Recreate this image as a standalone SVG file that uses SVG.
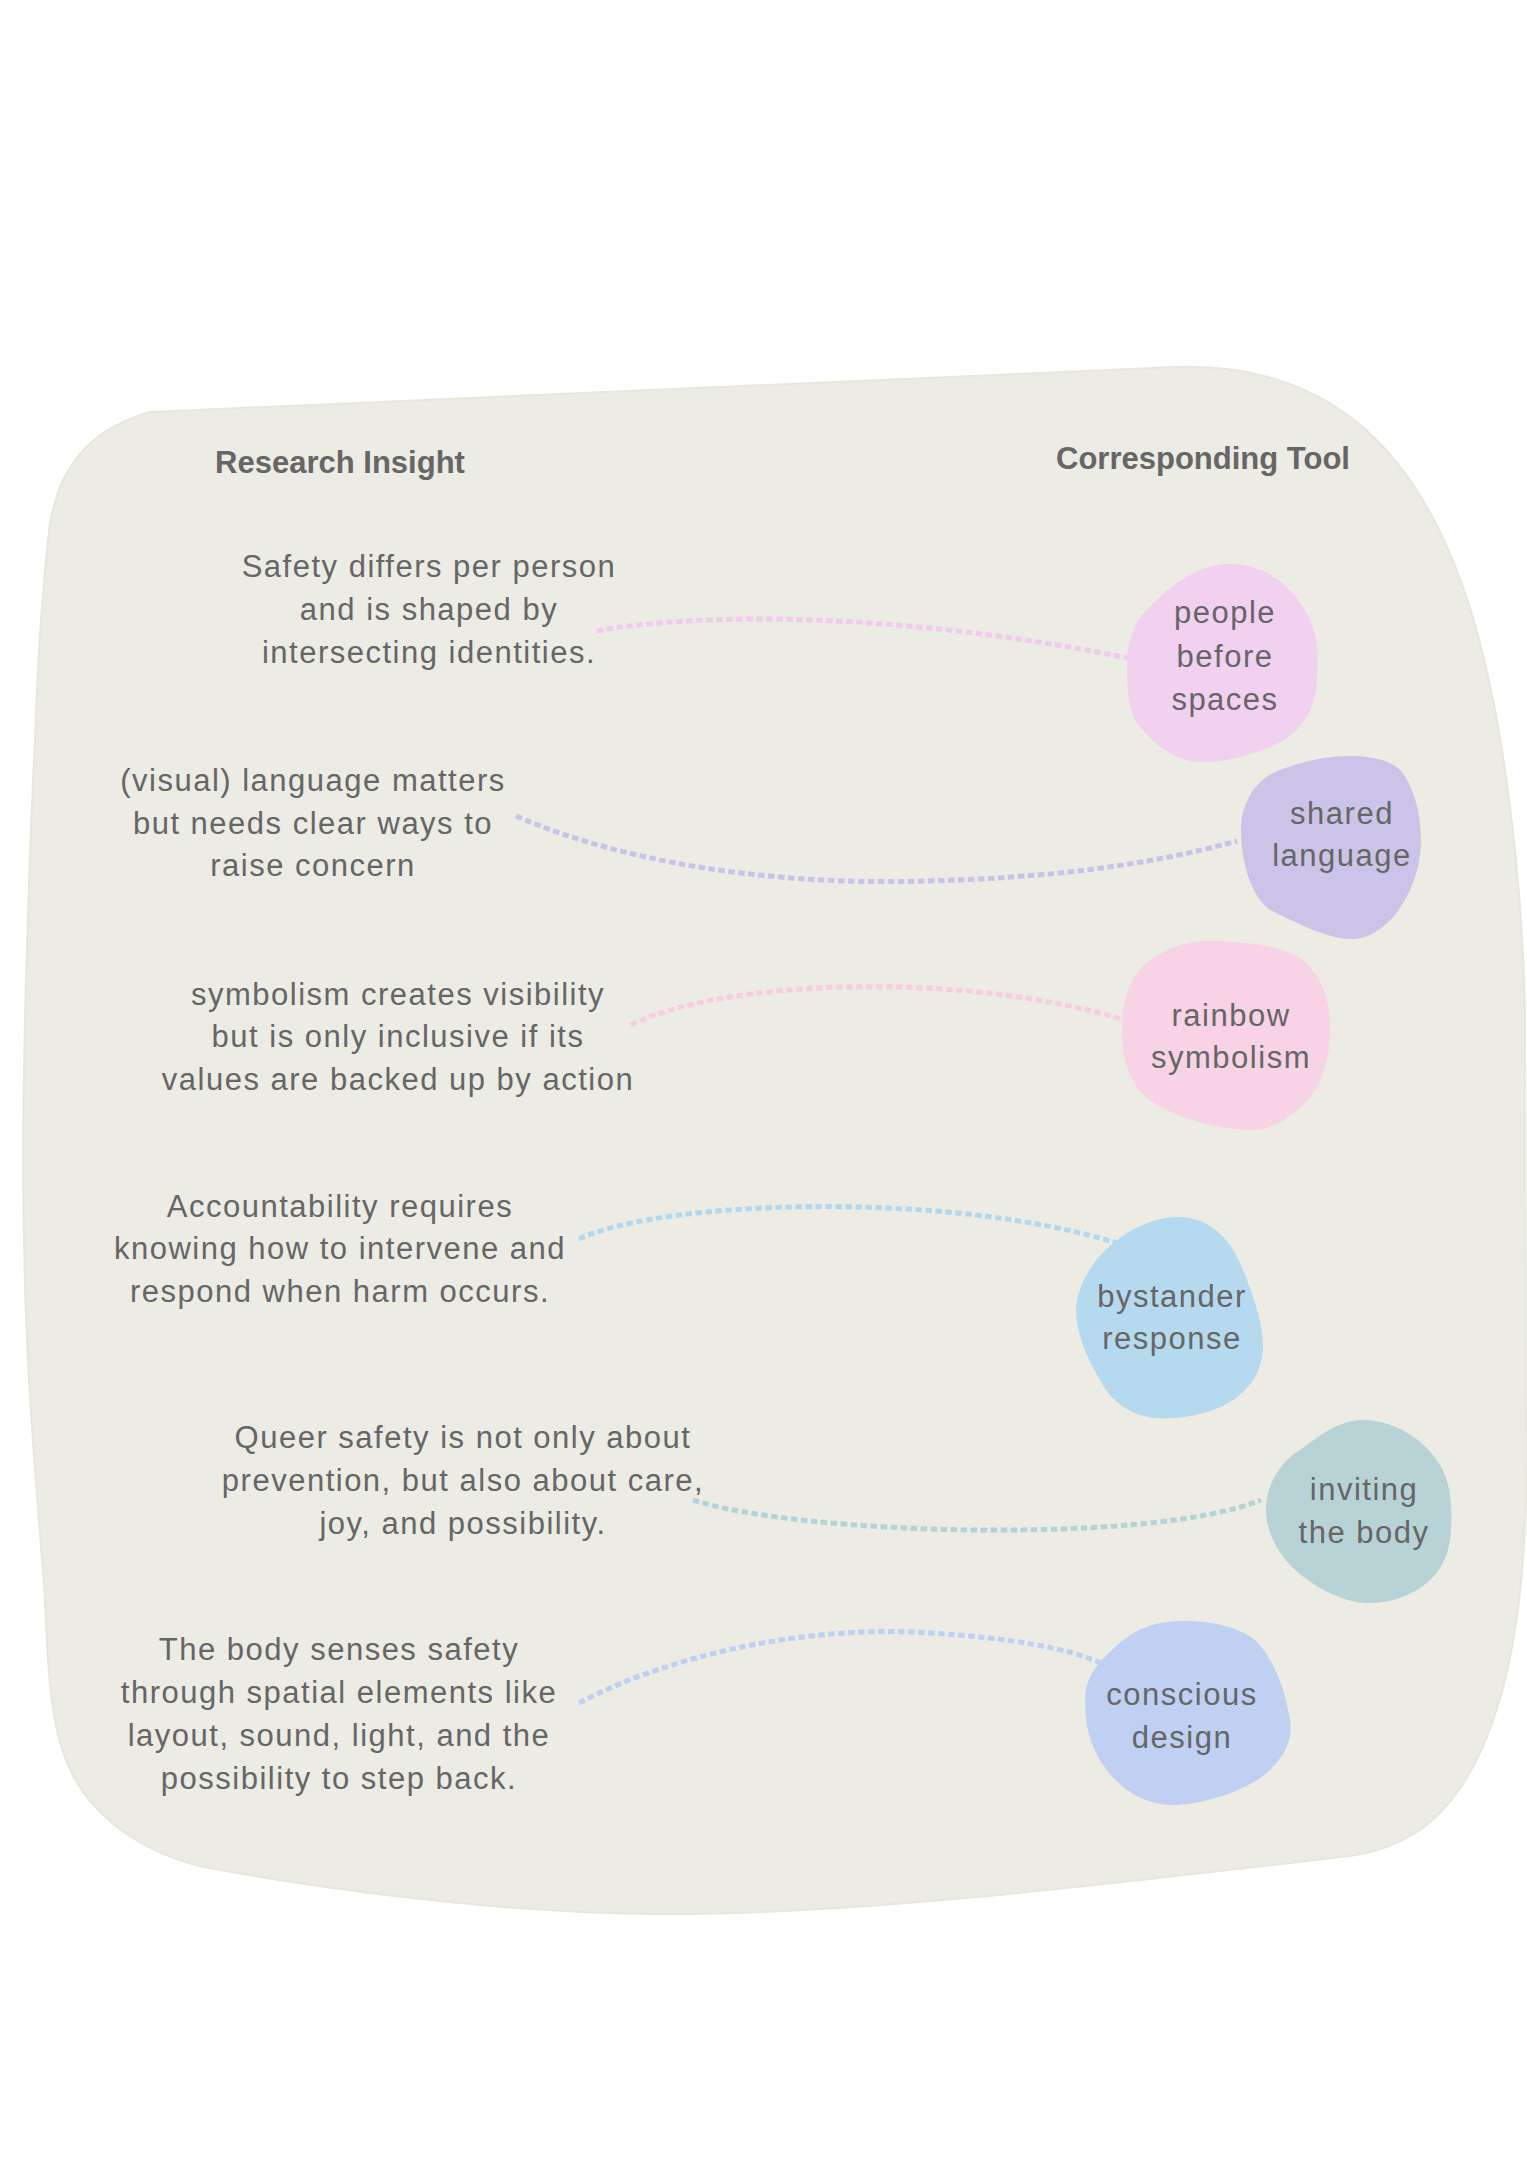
<svg xmlns="http://www.w3.org/2000/svg" width="1527" height="2160" viewBox="0 0 1527 2160">
<style>
.hdr{font-family:"Liberation Sans",Arial,sans-serif;font-weight:bold;font-size:31px;fill:#666666;text-anchor:middle}
.txt{font-family:"Liberation Sans",Arial,sans-serif;font-size:31px;letter-spacing:1.5px;fill:#666666;text-anchor:middle}
.con{fill:none;stroke-width:5;stroke-dasharray:6.5 3.5}
</style>
<rect width="1527" height="2160" fill="#ffffff"/>
<g id="background">
<path d="M 150 412 L 1175 367 C 1330 362 1420 450 1470 608 C 1505 720 1522 880 1525 1010 L 1526 1500 C 1522 1660 1490 1780 1420 1830 C 1395 1846 1375 1852 1350 1856 C 1100 1885 850 1916 650 1914 C 480 1912 300 1885 204 1867 C 140 1852 90 1815 69 1767 C 52 1730 48 1680 45 1600 C 40 1529 30 1420 27 1338 C 23 1250 22 1146 25 1019 C 28 900 32 800 35 740 C 37 680 40 607 50 523 C 56 495 62 480 67 473 C 80 450 100 427 150 412 Z" fill="#ECEBE4" stroke="#E8E7DE" stroke-width="2"/>
</g>
<g id="headers">
<text class="hdr" x="340" y="473">Research Insight</text>
<text class="hdr" x="1203" y="469">Corresponding Tool</text>
</g>
<g id="connectors">
<path class="con" stroke="#F0CBEE" d="M 597 631 C 700 612 900 612 1128 658"/>
<path class="con" stroke="#C9C2EA" d="M 516 816 C 640 870 800 885 925 881 C 1050 878 1150 865 1237 841"/>
<path class="con" stroke="#F7CDE2" d="M 631 1025 C 720 980 960 970 1125 1020"/>
<path class="con" stroke="#B3D8EE" d="M 579 1239 C 660 1200 950 1190 1120 1244"/>
<path class="con" stroke="#B5D2D6" d="M 693 1500 C 800 1535 1150 1545 1261 1500"/>
<path class="con" stroke="#BED0F4" d="M 579 1703 C 680 1650 820 1625 930 1633 C 1010 1638 1070 1648 1105 1665"/>
</g>
<g id="insight1">
<text class="txt" x="429" y="577">Safety differs per person</text>
<text class="txt" x="429" y="620">and is shaped by</text>
<text class="txt" x="429" y="663">intersecting identities.</text>
</g>
<g id="insight2">
<text class="txt" x="313" y="791">(visual) language matters</text>
<text class="txt" x="313" y="834">but needs clear ways to</text>
<text class="txt" x="313" y="876">raise concern</text>
</g>
<g id="insight3">
<text class="txt" x="398" y="1005">symbolism creates visibility</text>
<text class="txt" x="398" y="1047">but is only inclusive if its</text>
<text class="txt" x="398" y="1090">values are backed up by action</text>
</g>
<g id="insight4">
<text class="txt" x="340" y="1217">Accountability requires</text>
<text class="txt" x="340" y="1259">knowing how to intervene and</text>
<text class="txt" x="340" y="1302">respond when harm occurs.</text>
</g>
<g id="insight5">
<text class="txt" x="463" y="1448">Queer safety is not only about</text>
<text class="txt" x="463" y="1491">prevention, but also about care,</text>
<text class="txt" x="463" y="1534">joy, and possibility.</text>
</g>
<g id="insight6">
<text class="txt" x="339" y="1660">The body senses safety</text>
<text class="txt" x="339" y="1703">through spatial elements like</text>
<text class="txt" x="339" y="1746">layout, sound, light, and the</text>
<text class="txt" x="339" y="1789">possibility to step back.</text>
</g>
<g id="tool-people-before-spaces">
<path fill="#F2D0F0" d="M 1230 564 C 1265 564 1290 585 1305 610 C 1320 635 1318 660 1317 680 C 1316 710 1300 735 1270 747 C 1245 757 1220 763 1200 762 C 1175 761 1155 745 1140 727 C 1128 712 1127 690 1127 665 C 1127 640 1135 622 1145 612 C 1165 590 1195 564 1230 564 Z"/>
<text class="txt" x="1225" y="623">people</text>
<text class="txt" x="1225" y="667">before</text>
<text class="txt" x="1225" y="710">spaces</text>
</g>
<g id="tool-shared-language">
<path fill="#CBC3E8" d="M 1350 756 C 1370 756 1390 760 1400 770 C 1412 783 1421 810 1421 840 C 1421 870 1410 895 1395 915 C 1380 932 1365 940 1350 939 C 1325 938 1295 922 1270 910 C 1250 895 1241 860 1241 830 C 1241 800 1258 780 1275 772 C 1300 762 1325 756 1350 756 Z"/>
<text class="txt" x="1342" y="824">shared</text>
<text class="txt" x="1342" y="866">language</text>
</g>
<g id="tool-rainbow-symbolism">
<path fill="#F8D2E5" d="M 1207 941 C 1240 941 1280 945 1300 958 C 1322 975 1330 1000 1330 1030 C 1330 1060 1322 1085 1305 1103 C 1290 1118 1270 1130 1255 1130 C 1220 1130 1180 1120 1150 1100 C 1128 1085 1122 1055 1122 1030 C 1122 1000 1130 975 1150 960 C 1170 946 1190 941 1207 941 Z"/>
<text class="txt" x="1231" y="1026">rainbow</text>
<text class="txt" x="1231" y="1068">symbolism</text>
</g>
<g id="tool-bystander-response">
<path fill="#B5D9EE" d="M 1178 1217 C 1210 1217 1232 1240 1243 1270 C 1255 1300 1263 1325 1263 1345 C 1263 1370 1250 1390 1230 1402 C 1210 1414 1180 1420 1155 1418 C 1130 1416 1110 1400 1100 1380 C 1085 1355 1076 1330 1076 1310 C 1076 1295 1083 1280 1092 1266 C 1110 1240 1145 1217 1178 1217 Z"/>
<text class="txt" x="1172" y="1307">bystander</text>
<text class="txt" x="1172" y="1349">response</text>
</g>
<g id="tool-inviting-the-body">
<path fill="#B8D3D5" d="M 1363 1420 C 1395 1420 1425 1440 1440 1465 C 1452 1485 1452 1510 1451 1530 C 1450 1555 1440 1575 1420 1588 C 1405 1598 1385 1604 1367 1603 C 1340 1602 1310 1585 1290 1565 C 1275 1548 1266 1530 1266 1510 C 1266 1485 1280 1462 1300 1450 C 1320 1435 1340 1420 1363 1420 Z"/>
<text class="txt" x="1364" y="1500">inviting</text>
<text class="txt" x="1364" y="1543">the body</text>
</g>
<g id="tool-conscious-design">
<path fill="#BFD0F2" d="M 1183 1621 C 1215 1621 1240 1628 1255 1640 C 1275 1660 1285 1690 1290 1720 C 1293 1740 1285 1755 1270 1770 C 1250 1790 1200 1806 1170 1805 C 1140 1804 1115 1785 1100 1760 C 1088 1740 1085 1720 1085 1700 C 1085 1680 1095 1665 1110 1652 C 1130 1632 1150 1621 1183 1621 Z"/>
<text class="txt" x="1182" y="1705">conscious</text>
<text class="txt" x="1182" y="1748">design</text>
</g>
</svg>
